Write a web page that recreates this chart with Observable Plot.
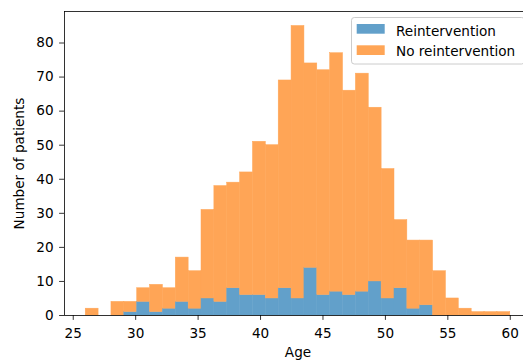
<!DOCTYPE html>
<html>
<head>
<meta charset="utf-8">
<script src="https://cdn.jsdelivr.net/npm/d3@7"></script>
<script src="https://cdn.jsdelivr.net/npm/@observablehq/plot@0.6"></script>
<style>
  body { margin: 0; background: #fff; }
  #chart { width: 523px; height: 360px; overflow: hidden; }
</style>
</head>
<body>
<div id="chart"></div>
<script>
// Age histogram: 33 equal-width bins spanning 26 to 60 years
const ageMin = 26;
const ageMax = 60;
const binCount = 33;

// Patients per bin, by outcome (stacked: reintervention at the bottom)
const reintervention   = [0, 0, 0, 1, 4, 1, 2, 4, 2, 5, 4, 8, 6, 6, 5, 8, 5, 14, 6, 7, 6, 7, 10, 5, 8, 2, 3, 0, 0, 0, 0, 0, 0];
const noReintervention = [2, 0, 4, 3, 4, 8, 6, 13, 11, 26, 34, 31, 36, 45, 45, 61, 80, 60, 66, 70, 60, 64, 51, 38, 20, 20, 19, 13, 5, 2, 1, 1, 1];

const seriesNames  = ["Reintervention", "No reintervention"];
// tab:blue and tab:orange at 70% opacity over white
const seriesColors = ["#62a0ca", "#ffa556"];

const xTicks = [25, 30, 35, 40, 45, 50, 55, 60];
const yTicks = [0, 10, 20, 30, 40, 50, 60, 70, 80];

// Stacked rectangles, one per bin and series
const binWidth = (ageMax - ageMin) / binCount;
const rows = [];
reintervention.forEach((r, i) => {
  const x1 = ageMin + i * binWidth, x2 = x1 + binWidth;
  const n = noReintervention[i];
  if (r > 0) rows.push({series: seriesNames[0], x1, x2, y1: 0, y2: r});
  if (n > 0) rows.push({series: seriesNames[1], x1, x2, y1: r, y2: r + n});
});

// Axis limits with 5% padding on x, 5% headroom on y
const pad = 0.05 * (ageMax - ageMin);
const yTop = 1.05 * d3.max(reintervention, (r, i) => r + noReintervention[i]);

const fontSize = 13.6;
const W = 523, H = 360;
const mL = 64, mR = -8, mT = 11, mB = 45;

const plot = Plot.plot({
  width: W,
  height: H,
  marginLeft: mL,
  marginRight: mR,
  marginTop: mT,
  marginBottom: mB,
  style: {fontFamily: "DejaVu Sans", fontSize: fontSize + "px", color: "#000", background: "#fff"},
  x: {domain: [ageMin - pad, ageMax + pad]},
  y: {domain: [0, yTop]},
  color: {domain: seriesNames, range: seriesColors},
  marks: [
    // a hairline stroke in the fill colour closes the anti-aliasing seams between adjacent bins
    Plot.rect(rows, {x1: "x1", x2: "x2", y1: "y1", y2: "y2", fill: "series", stroke: "series", strokeWidth: 0.5}),
    Plot.axisX({ticks: xTicks, tickSize: 4.9, tickPadding: 8, strokeWidth: 0.8,
      label: "Age", labelAnchor: "center", labelOffset: 41, labelArrow: "none"}),
    Plot.axisY({ticks: yTicks, tickSize: 4.9, tickPadding: 6, strokeWidth: 0.8,
      label: "Number of patients", labelAnchor: "center", labelOffset: 50, labelArrow: "none"}),
    Plot.frame({stroke: "#000", strokeWidth: 0.8})
  ]
});

// Legend box in the upper-right corner of the axes
const svg = d3.select(plot);
const lg = svg.append("g")
  .attr("font-family", "DejaVu Sans")
  .attr("font-size", fontSize)
  .attr("text-anchor", "start");
const boxRight = W - mR - 7;
const boxLeft = 351;
lg.append("rect")
  .attr("x", boxLeft + 0.5).attr("y", 17.5)
  .attr("width", boxRight - boxLeft).attr("height", 46.5)
  .attr("rx", 2.8)
  .attr("fill", "#fff").attr("fill-opacity", 0.8)
  .attr("stroke", "#cccccc").attr("stroke-width", 1);
const rowsY = [{h: 24, t: 35.5}, {h: 45.3, t: 56}];
seriesNames.forEach((name, i) => {
  lg.append("rect")
    .attr("x", boxLeft + 5.7).attr("y", rowsY[i].h)
    .attr("width", 28).attr("height", 9.7)
    .attr("fill", seriesColors[i]);
  lg.append("text")
    .attr("x", boxLeft + 45).attr("y", rowsY[i].t)
    .attr("fill", "#000")
    .attr("text-anchor", "start")
    .text(name);
});

document.getElementById("chart").appendChild(plot);
</script>
</body>
</html>
